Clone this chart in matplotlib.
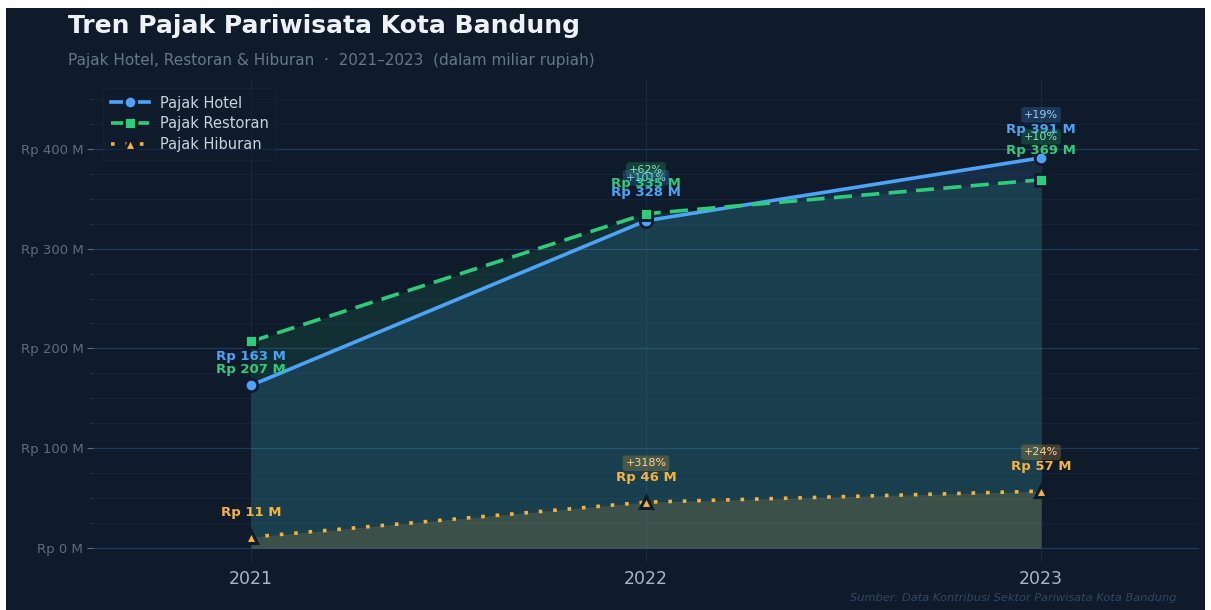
import matplotlib
matplotlib.use("Agg")
import matplotlib.pyplot as plt
from matplotlib.patches import Rectangle
from matplotlib.ticker import FuncFormatter, AutoMinorLocator
import matplotlib.colors as mcolors
import numpy as np

# ---- data ----
years = ["2021", "2022", "2023"]
hotel = [163, 328, 391]
restoran = [207, 335, 369]
hiburan = [11, 46, 57]
series_names = ["Pajak Hotel", "Pajak Restoran", "Pajak Hiburan"]

title = "Tren Pajak Pariwisata Kota Bandung"
subtitle = "Pajak Hotel, Restoran & Hiburan  \u00b7  2021\u20132023  (dalam miliar rupiah)"
source = "Sumber: Data Kontribusi Sektor Pariwisata Kota Bandung"

BG = "#0f1b2b"
C_HOTEL = "#4da3f7"
C_REST = "#2ecc7a"
C_HIB = "#f7b23b"

W, H = 1211, 610
fig = plt.figure(figsize=(W / 100, H / 100), dpi=100, facecolor="white")
fig.patches.append(Rectangle((6 / W, 0), (1205 - 6) / W, (602) / H,
                             transform=fig.transFigure, facecolor=BG,
                             edgecolor="none", zorder=-10))

ax = fig.add_axes([93 / W, 1 - 563 / H, (1199 - 93) / W, (563 - 80) / H])
ax.set_facecolor(BG)

x = np.arange(len(years))

# fills
ax.fill_between(x, 0, restoran, color=C_REST, alpha=0.12, lw=0, zorder=1)
ax.fill_between(x, 0, hotel, color=C_HOTEL, alpha=0.13, lw=0, zorder=1)
ax.fill_between(x, 0, hiburan, color=C_HIB, alpha=0.16, lw=0, zorder=1)

ax.plot(x, hotel, color=C_HOTEL, lw=2.6, ls="-", marker="o", ms=9,
        mfc=C_HOTEL, mec=BG, mew=2, label=series_names[0], zorder=4)
ax.plot(x, restoran, color=C_REST, lw=2.6, ls=(0, (5, 2.6)), marker="s", ms=9,
        mfc=C_REST, mec=BG, mew=2, label=series_names[1], zorder=4)
ax.plot(x, hiburan, color=C_HIB, lw=2.6, ls=(0, (1, 3)), marker="^", ms=9,
        mfc=C_HIB, mec=BG, mew=2.2, label=series_names[2], zorder=4)

ax.set_xlim(-0.4, 2.4)
ax.set_ylim(-15, 469)

ax.set_xticks(x)
ax.set_xticklabels(years)
ax.set_yticks([0, 100, 200, 300, 400])
ax.yaxis.set_major_formatter(FuncFormatter(lambda v, p: f"Rp {int(v)} M"))
ax.yaxis.set_minor_locator(AutoMinorLocator(4))

ax.tick_params(axis="x", colors="#a8b6c6", labelsize=12.5, length=0, pad=5)
ax.tick_params(axis="y", which="major", colors="#5d6c7e", labelsize=9.5, length=4, pad=3)
ax.tick_params(axis="y", which="minor", colors="#2a3a4e", length=2)
for lab in ax.get_xticklabels():
    lab.set_color("#a8b6c6")

ax.grid(axis="y", which="major", color="#1f3a5c", lw=0.9, zorder=0)
ax.grid(axis="y", which="minor", color="#15253a", lw=0.6, zorder=0)
ax.grid(axis="x", which="major", color="#1a2a3e", lw=0.8, zorder=0)
for s in ax.spines.values():
    s.set_visible(False)
ax.set_axisbelow(True)


def lighten(c, f):
    r, g, b = mcolors.to_rgb(c)
    return (r + (1 - r) * f, g + (1 - g) * f, b + (1 - b) * f)


def annotate_series(vals, color, label_offsets, badge_gap):
    for i, v in enumerate(vals):
        off = label_offsets[i]
        ax.annotate(f"Rp {v} M", (x[i], v), xytext=(0, off),
                    textcoords="offset points", ha="center", va="center",
                    fontsize=9.5, fontweight="bold", color=color, zorder=6)
        if i > 0:
            g = (v - vals[i - 1]) / vals[i - 1] * 100
            ax.annotate(f"+{g:.0f}%", (x[i], v), xytext=(0, off + badge_gap),
                        textcoords="offset points", ha="center", va="center",
                        fontsize=8, color=lighten(color, 0.45), zorder=6,
                        bbox=dict(boxstyle="round,pad=0.25",
                                  fc=mcolors.to_rgba(color, 0.22), ec="none"))


annotate_series(hotel, C_HOTEL, [20.5, 20.5, 20.5], 10.5)
annotate_series(restoran, C_REST, [-20, 21.5, 21], 10)
annotate_series(hiburan, C_HIB, [18, 17.5, 17.5], 10.5)

leg = fig.legend(loc="upper left", bbox_to_anchor=(96 / W, 1 - 81 / H),
                 bbox_transform=fig.transFigure, frameon=True, fontsize=10.5,
                 labelcolor="#c9d3df", handlelength=2.6, borderpad=0.5,
                 labelspacing=0.4, fancybox=True)
leg.get_frame().set_facecolor(BG)
leg.get_frame().set_alpha(0.5)
leg.get_frame().set_edgecolor("#18273a")

fig.text(68 / W, 1 - 26 / H, title, fontsize=18, fontweight="bold",
         color="#eef2f7", ha="left", va="center")
fig.text(68 / W, 1 - 60 / H, subtitle, fontsize=11, color="#66778b",
         ha="left", va="center")
fig.text(1176 / W, 1 - 598 / H, source, fontsize=8.2, style="italic",
         color="#33475f", ha="right", va="center")

fig.savefig("out.png", dpi=100, facecolor=fig.get_facecolor())
